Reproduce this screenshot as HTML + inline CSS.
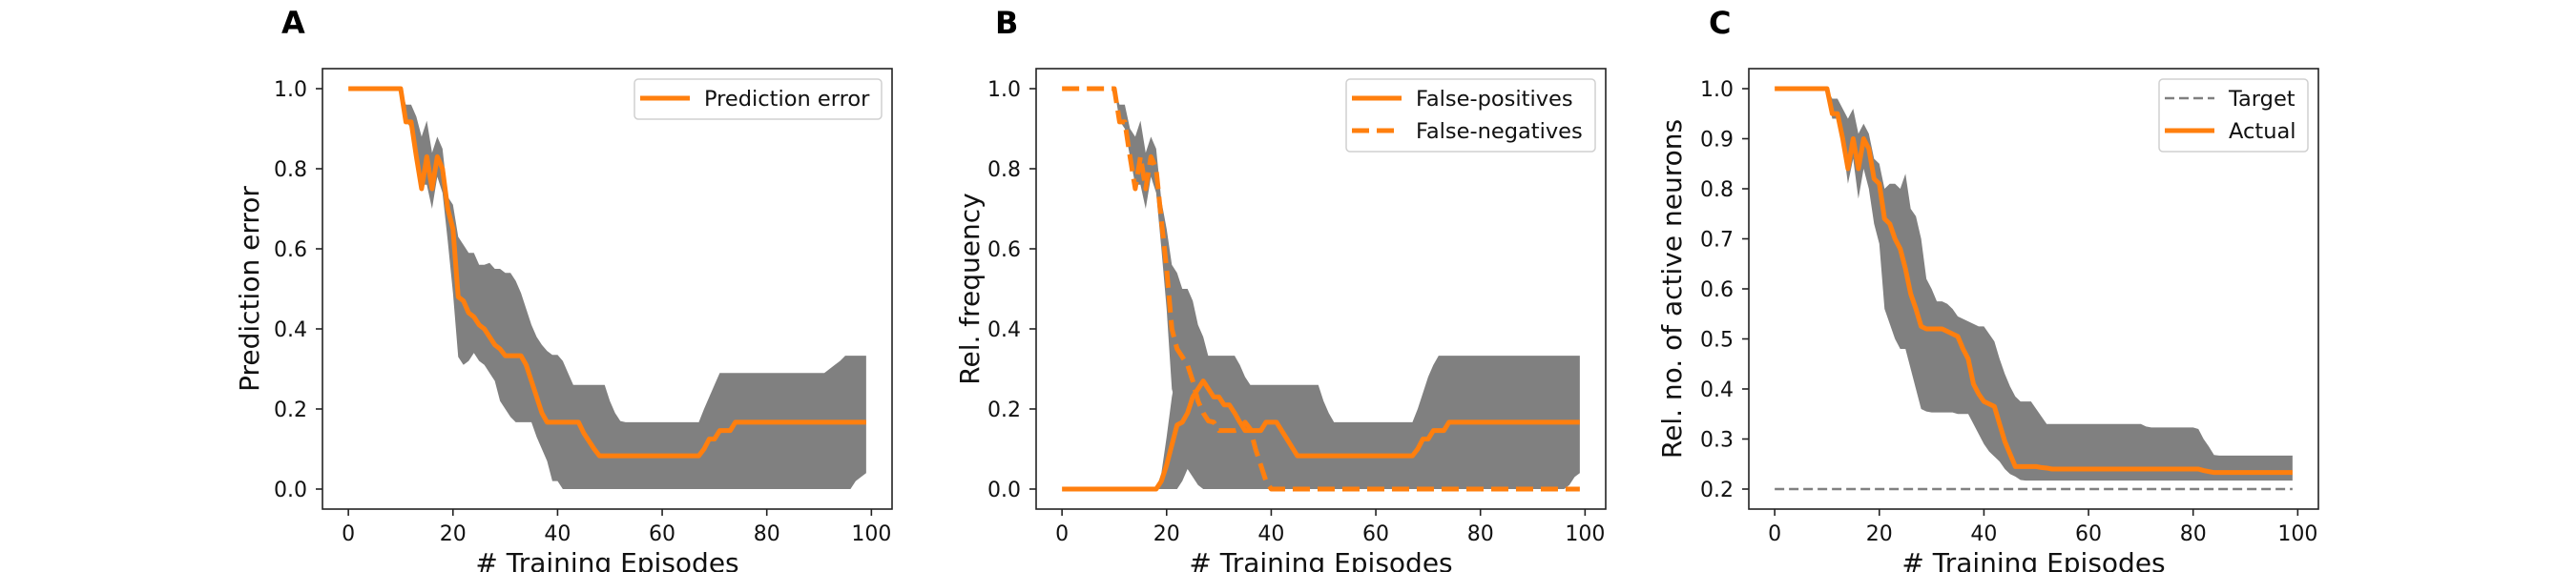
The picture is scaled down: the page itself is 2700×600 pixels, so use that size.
<!DOCTYPE html>
<html><head><meta charset="utf-8"><style>
html,body{margin:0;padding:0;background:#fff}
svg{display:block;font-family:"DejaVu Sans","Liberation Sans",sans-serif}
</style></head><body>
<svg id="fig" width="2700" height="600" viewBox="0 0 2700 600" xmlns="http://www.w3.org/2000/svg"></svg>
<script>
const episodes = Array.from({length:100},(_,i)=>i);
function ex(vals){ // expand [value,count] runs
  const out=[]; vals.forEach(v=>{ if(Array.isArray(v)){for(let k=0;k<v[1];k++)out.push(v[0]);} else out.push(v);}); return out;}
const xTicks=[0,20,40,60,80,100];
const yTicksAB=[0.0,0.2,0.4,0.6,0.8,1.0];
const yTicksC=[0.2,0.3,0.4,0.5,0.6,0.7,0.8,0.9,1.0];
// Panel A
const predMean = ex([[1,11],.917,.917,.83,.75,.83,.75,.83,.80,.70,.65,.48,.47,.44,.43,.41,.40,.38,.36,.35,[.333,4],.31,.27,.23,.19,[.167,7],.14,.12,.10,[.083,20],.10,.125,.125,.146,.146,.146,[.167,26]]);
const predUpper = ex([[1,11],.96,.96,.93,.88,.92,.84,.88,.85,.73,.71,.63,.61,.59,.59,.56,.56,.565,.55,.55,.54,.54,.52,.49,.45,.41,.38,.36,.345,.335,.335,.32,.29,[.26,7],.22,.19,.17,[.167,15],.2,.23,.26,[.29,21],.30,.31,.32,[.333,5]]);
const predLower = ex([[1,11],.92,.9,.83,.76,.76,.7,.78,.74,.62,.49,.33,.31,.32,.34,.32,.31,.29,.27,.22,.2,.18,[.167,4],.13,.1,.07,.02,.02,[0,56],.02,.03,.04]);
// Panel B
const fpMean = ex([[0,19],.02,.06,.11,.16,.167,.19,.23,.25,.27,.25,.23,.23,.21,.21,.19,.167,[.146,4],[.167,3],.146,.125,.104,[.083,23],.10,.125,.125,.146,.146,.146,[.167,26]]);
const fnMean = ex([[1,11],.917,.917,.83,.75,.83,.75,.83,.8,.67,.55,.4,.35,.33,.31,.27,.22,.19,.17,.167,[.146,4],.15,.167,.15,.1,.06,.02,[0,60]]);
const fpUpper = ex([[0,19],.04,.13,.23,.3,.33,.333,[.333,9],.31,.28,[.26,14],.22,.19,[.167,16],.2,.24,.28,.31,[.333,28]]);
const fpLower = ex([[0,23],.02,.05,.03,.01,[0,5],.02,.04,.02,[0,62],.01,.03,.04]);
const fnUpper = ex([[1,11],.96,.96,.9,.88,.92,.84,.88,.85,.72,.65,.56,.54,.5,.5,.47,.41,.38,.33,.3,.27,.25,.25,.25,.25,.22,.18,.12,.06,.02,[0,60]]);
const fnLower = ex([[1,11],.92,.9,.83,.76,.76,.7,.78,.74,.6,.45,.25,.2,.17,.12,.08,.05,[0,73]]);
// Panel C
const targetVal = 0.2;
const actMean = ex([[1,11],.95,.95,.9,.84,.9,.84,.9,.88,.82,.81,.74,.73,.70,.68,.64,.59,.56,.525,[.52,4],.515,.51,.505,.48,.46,.41,.39,.375,.37,.365,.33,.295,.27,[.245,5],.243,.242,[.24,29],.237,.235,[.233,16]]);
const actUpper = ex([[1,11],.98,.98,.96,.94,.96,.91,.93,.91,.86,.85,.80,.81,.81,.80,.83,.76,.745,.70,.62,.6,.575,.575,.57,.56,.545,.54,.535,.53,.525,.525,.51,.495,.46,.43,.405,.385,[.375,3],.36,.345,[.33,19],.325,[.323,9],.32,.30,.285,.268,[.267,15]]);
const actLower = ex([[1,11],.94,.94,.89,.81,.86,.78,.84,.80,.73,.69,.56,.53,.5,.48,.48,.44,.40,.36,.355,[.353,5],[.35,3],.33,.31,.29,.275,.265,.255,.24,.23,.225,.218,[.217,52]]);

const NS="http://www.w3.org/2000/svg";
const svg=document.getElementById('fig');
function mk(tag,attrs,parent,text){const e=document.createElementNS(NS,tag);for(const k in attrs)e.setAttribute(k,attrs[k]);if(text!==undefined)e.textContent=text;(parent||svg).appendChild(e);return e;}
const ORANGE="#ff7f0e";
const W=597;
function panel(cfg){
  const g=mk('g',{});
  
  
  const L=cfg.left,R=cfg.left+W,T=72,B=534;
  const xs=v=>L+(v+4.95)/108.9*W;
  const ys=v=>B-(v-cfg.ymin)/(cfg.ymax-cfg.ymin)*(B-T);
  const band=(up,lo,nm)=>{let d='M'+episodes.map(i=>xs(i)+','+ys(up[i])).join(' L');
    d+=' L'+episodes.slice().reverse().map(i=>xs(i)+','+ys(lo[i])).join(' L')+'Z';
    const p=mk('path',{d:d,fill:'#808080',stroke:'none'},g);
    
    };
  const line=(arr,nm,dash,col,w)=>{const p=mk('polyline',{points:episodes.map(i=>xs(i)+','+ys(arr[i])).join(' '),fill:'none',stroke:col||ORANGE,'stroke-width':w||5,'stroke-linejoin':'round'},g);
    if(dash)p.setAttribute('stroke-dasharray',dash);
    
    };
  cfg.draw(band,line,xs,ys);
  const fr=mk('rect',{x:L,y:T,width:W,height:B-T,fill:'none',stroke:'#222','stroke-width':1.6},g);
  
  
  xTicks.forEach(t=>{const x=xs(t);mk('line',{x1:x,x2:x,y1:B,y2:B+7,stroke:'#222','stroke-width':1.6},g);
    const tx=mk('text',{x:x,y:B+33,'font-size':22,'text-anchor':'middle',fill:'#111'},g,String(t));
    
    });
  cfg.yticks.forEach(t=>{const y=ys(t);mk('line',{x1:L-7,x2:L,y1:y,y2:y,stroke:'#222','stroke-width':1.6},g);
    const tx=mk('text',{x:L-16,y:y+8,'font-size':22,'text-anchor':'end',fill:'#111'},g,t.toFixed(1));
    
    });
  const xl=mk('text',{x:(L+R)/2,y:600,'font-size':28,'text-anchor':'middle',fill:'#111'},g,'# Training Episodes');
  
  
  const ycx=cfg.ylabX, ycy=(T+B)/2;
  const yl=mk('text',{x:ycx,y:ycy,'font-size':28,'text-anchor':'middle',fill:'#111',transform:`rotate(-90 ${ycx} ${ycy})`},g,cfg.ylabel);
  
  
  const pl=mk('text',{x:cfg.labX,y:35,'font-size':32,'font-weight':'bold',fill:'#000'},g,cfg.letter);
  
  
  // legend
  const lg=mk('g',{},g);
  
  
  const lw=cfg.legW, lx=R-11-lw, ly=83, lh=cfg.legend.length===1?42:76;
  mk('rect',{x:lx,y:ly,width:lw,height:lh,rx:4,fill:'#fff','fill-opacity':0.8,stroke:'#d0d0d0','stroke-width':1.5},lg);
  cfg.legend.forEach((e,i)=>{const cy=103+i*34;
    const ln=mk('line',{x1:lx+6,x2:lx+58,y1:cy,y2:cy,stroke:e.col||ORANGE,'stroke-width':e.w||5},lg);
    if(e.dash)ln.setAttribute('stroke-dasharray',e.dash);
    const t=mk('text',{x:lx+73,y:cy+8,'font-size':22.5,fill:'#111'},lg,e.label);
    
    });
}
panel({name:'panel-a',letter:'A',left:338,labX:295,ylabX:271,ymin:-0.05,ymax:1.05,yticks:yTicksAB,ylabel:'Prediction error',legW:259,
  legend:[{label:'Prediction error'}],
  draw:(band,line)=>{band(predUpper,predLower,'error-band');line(predMean,'prediction-error-line');}});
panel({name:'panel-b',letter:'B',left:1086,labX:1043,ylabX:1026,ymin:-0.05,ymax:1.05,yticks:yTicksAB,ylabel:'Rel. frequency',legW:261,
  legend:[{label:'False-positives'},{label:'False-negatives',dash:'18,8'}],
  draw:(band,line)=>{band(fnUpper,fnLower,'false-negatives-band');band(fpUpper,fpLower,'false-positives-band');
    line(fpMean,'false-positives-line');line(fnMean,'false-negatives-line','18,8');}});
panel({name:'panel-c',letter:'C',left:1833,labX:1791,ylabX:1762,ymin:0.16,ymax:1.04,yticks:yTicksC,ylabel:'Rel. no. of active neurons',legW:156,
  legend:[{label:'Target',dash:'10,5',col:'#808080',w:2.5},{label:'Actual'}],
  draw:(band,line)=>{band(actUpper,actLower,'actual-band');
    line(episodes.map(()=>targetVal),'target-line','10,5','#808080',2.5);
    line(actMean,'actual-line');}});
</script>
</body></html>
